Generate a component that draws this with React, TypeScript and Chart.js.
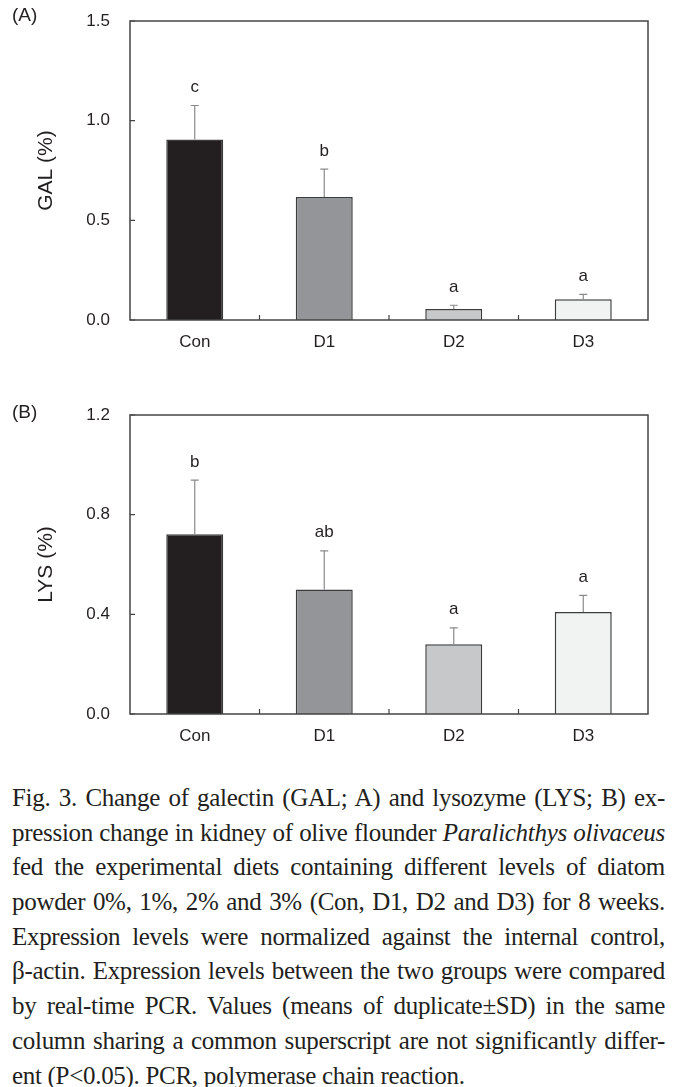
import React, { useEffect, useRef } from "react";
import { Chart, registerables } from "chart.js";

Chart.register(...registerables);

const categories = ["Con", "D1", "D2", "D3"];
const galValues = [0.905, 0.617, 0.055, 0.104];
const galErrors = [0.171, 0.14, 0.019, 0.025];
const galLetters = ["c", "b", "a", "a"];
const galTicks = [0, 0.5, 1.0, 1.5];
const lysValues = [0.721, 0.5, 0.28, 0.409];
const lysErrors = [0.218, 0.155, 0.066, 0.067];
const lysLetters = ["b", "ab", "a", "a"];
const lysTicks = [0, 0.4, 0.8, 1.2];
const barColors = ["#231f20", "#939598", "#c7c8ca", "#f1f2f2"];

const captionLines = [
  "Fig. 3. Change of galectin (GAL; A) and lysozyme (LYS; B) ex-",
  "pression change in kidney of olive flounder |Paralichthys olivaceus|",
  "fed the experimental diets containing different levels of diatom",
  "powder 0%, 1%, 2% and 3% (Con, D1, D2 and D3) for 8 weeks.",
  "Expression levels were normalized against the internal control,",
  "β-actin. Expression levels between the two groups were compared",
  "by real-time PCR. Values (means of duplicate±SD) in the same",
  "column sharing a common superscript are not significantly differ-",
  "ent (P<0.05). PCR, polymerase chain reaction.",
];

const TEXT = "#231f20";
const SANS = "'Liberation Sans', Arial, sans-serif";

const framePlugin = {
  id: "frame",
  afterDatasetsDraw(chart: any, _args: any, opts: any) {
    const { ctx, chartArea, scales } = chart;
    const { left, right, top, bottom } = chartArea;
    const x = scales.x;
    const y = scales.y;
    const meta = chart.getDatasetMeta(0);
    ctx.save();
    // error bars and letters
    ctx.strokeStyle = "#8a8a8a";
    ctx.lineWidth = 1.2;
    opts.values.forEach((v: number, i: number) => {
      const px = meta.data[i].x;
      const yv = y.getPixelForValue(v);
      const ye = y.getPixelForValue(v + opts.errors[i]);
      ctx.beginPath();
      ctx.moveTo(px, yv);
      ctx.lineTo(px, ye);
      ctx.moveTo(px - 4, ye);
      ctx.lineTo(px + 4, ye);
      ctx.stroke();
      ctx.fillStyle = TEXT;
      ctx.font = "17px " + SANS;
      ctx.textAlign = "center";
      ctx.textBaseline = "middle";
      ctx.fillText(opts.letters[i], px, ye - 18);
    });
    // frame
    ctx.strokeStyle = "#444444";
    ctx.lineWidth = 1.5;
    ctx.strokeRect(left, top, right - left, bottom - top);
    // inward ticks
    ctx.lineWidth = 1.2;
    ctx.beginPath();
    opts.ticks.forEach((t: number) => {
      const py = y.getPixelForValue(t);
      ctx.moveTo(left, py);
      ctx.lineTo(left + 5, py);
    });
    for (let i = 1; i < opts.values.length; i++) {
      const px = (x.getPixelForValue(i - 1) + x.getPixelForValue(i)) / 2;
      ctx.moveTo(px, bottom);
      ctx.lineTo(px, bottom - 5);
    }
    ctx.stroke();
    ctx.restore();
  },
};

type Props = {
  top: number;
  height: number;
  padTop: number;
  plotBottom: number;
  values: number[];
  errors: number[];
  letters: string[];
  ticks: number[];
  title: string;
};

function BarPanel(p: Props) {
  const ref = useRef<HTMLCanvasElement | null>(null);
  useEffect(() => {
    if (!ref.current) return;
    const chart = new Chart(ref.current, {
      type: "bar",
      data: {
        labels: categories,
        datasets: [
          {
            data: p.values,
            backgroundColor: barColors,
            borderColor: "#3c3c3c",
            borderWidth: 1.5,
            barPercentage: 0.44,
            categoryPercentage: 1,
          },
        ],
      },
      options: {
        responsive: false,
        animation: false,
        layout: { padding: { top: p.padTop, right: 28, left: 0, bottom: 0 } },
        plugins: {
          legend: { display: false },
          tooltip: { enabled: false },
          frame: { values: p.values, errors: p.errors, letters: p.letters, ticks: p.ticks },
        } as any,
        scales: {
          x: {
            grid: { display: false, drawTicks: false },
            border: { display: false },
            ticks: { color: TEXT, font: { family: SANS, size: 17 }, padding: 12 },
            afterFit: (s: any) => {
              s.height = p.height - p.plotBottom;
            },
          },
          y: {
            min: p.ticks[0],
            max: p.ticks[p.ticks.length - 1],
            grid: { display: false, drawTicks: false },
            border: { display: false },
            afterBuildTicks: (s: any) => {
              s.ticks = p.ticks.map((v) => ({ value: v }));
            },
            ticks: {
              color: TEXT,
              font: { family: SANS, size: 17 },
              padding: 20,
              callback: (v: any) => Number(v).toFixed(1),
            },
            title: {
              display: true,
              text: p.title,
              color: TEXT,
              font: { family: SANS, size: 21 },
              padding: { top: 34, bottom: 0 },
            },
            afterFit: (s: any) => {
              s.width = 130;
            },
          },
        },
      },
      plugins: [framePlugin],
    });
    return () => chart.destroy();
  }, []);
  return (
    <div style={{ position: "absolute", left: 0, top: p.top, width: 676, height: p.height }}>
      <canvas ref={ref} width={676} height={p.height} style={{ width: 676, height: p.height, display: "block" }} />
    </div>
  );
}

function CaptionLine({ text, last }: { text: string; last: boolean }) {
  const parts = text.split("|");
  return (
    <div
      style={{
        whiteSpace: "nowrap",
        textAlign: last ? "left" : "justify",
        textAlignLast: last ? "left" : "justify",
        height: 34.7,
        lineHeight: "34.7px",
      } as any}
    >
      {parts.map((s, i) => (i % 2 === 1 ? <i key={i}>{s}</i> : <span key={i}>{s}</span>))}
    </div>
  );
}

export default function App() {
  return (
    <div
      style={{
        position: "absolute",
        left: 0,
        top: 0,
        width: 676,
        height: 1087,
        background: "#ffffff",
        overflow: "hidden",
      }}
    >
      <BarPanel top={-29} height={394} padTop={50} plotBottom={349} values={galValues} errors={galErrors} letters={galLetters} ticks={galTicks} title="GAL (%)" />
      <BarPanel top={365} height={400} padTop={50} plotBottom={349} values={lysValues} errors={lysErrors} letters={lysLetters} ticks={lysTicks} title="LYS (%)" />
      <div style={{ position: "absolute", left: 12, top: 5, fontFamily: SANS, fontSize: 19, lineHeight: "20px", color: TEXT }}>(A)</div>
      <div style={{ position: "absolute", left: 12, top: 402, fontFamily: SANS, fontSize: 19, lineHeight: "20px", color: TEXT }}>(B)</div>
      <div
        style={{
          position: "absolute",
          left: 12,
          top: 781,
          width: 653,
          fontFamily: "'Liberation Serif', 'Times New Roman', serif",
          fontSize: 25,
          letterSpacing: "-0.3px",
          color: TEXT,
        }}
      >
        {captionLines.map((l, i) => (
          <CaptionLine key={i} text={l} last={i === captionLines.length - 1} />
        ))}
      </div>
    </div>
  );
}
